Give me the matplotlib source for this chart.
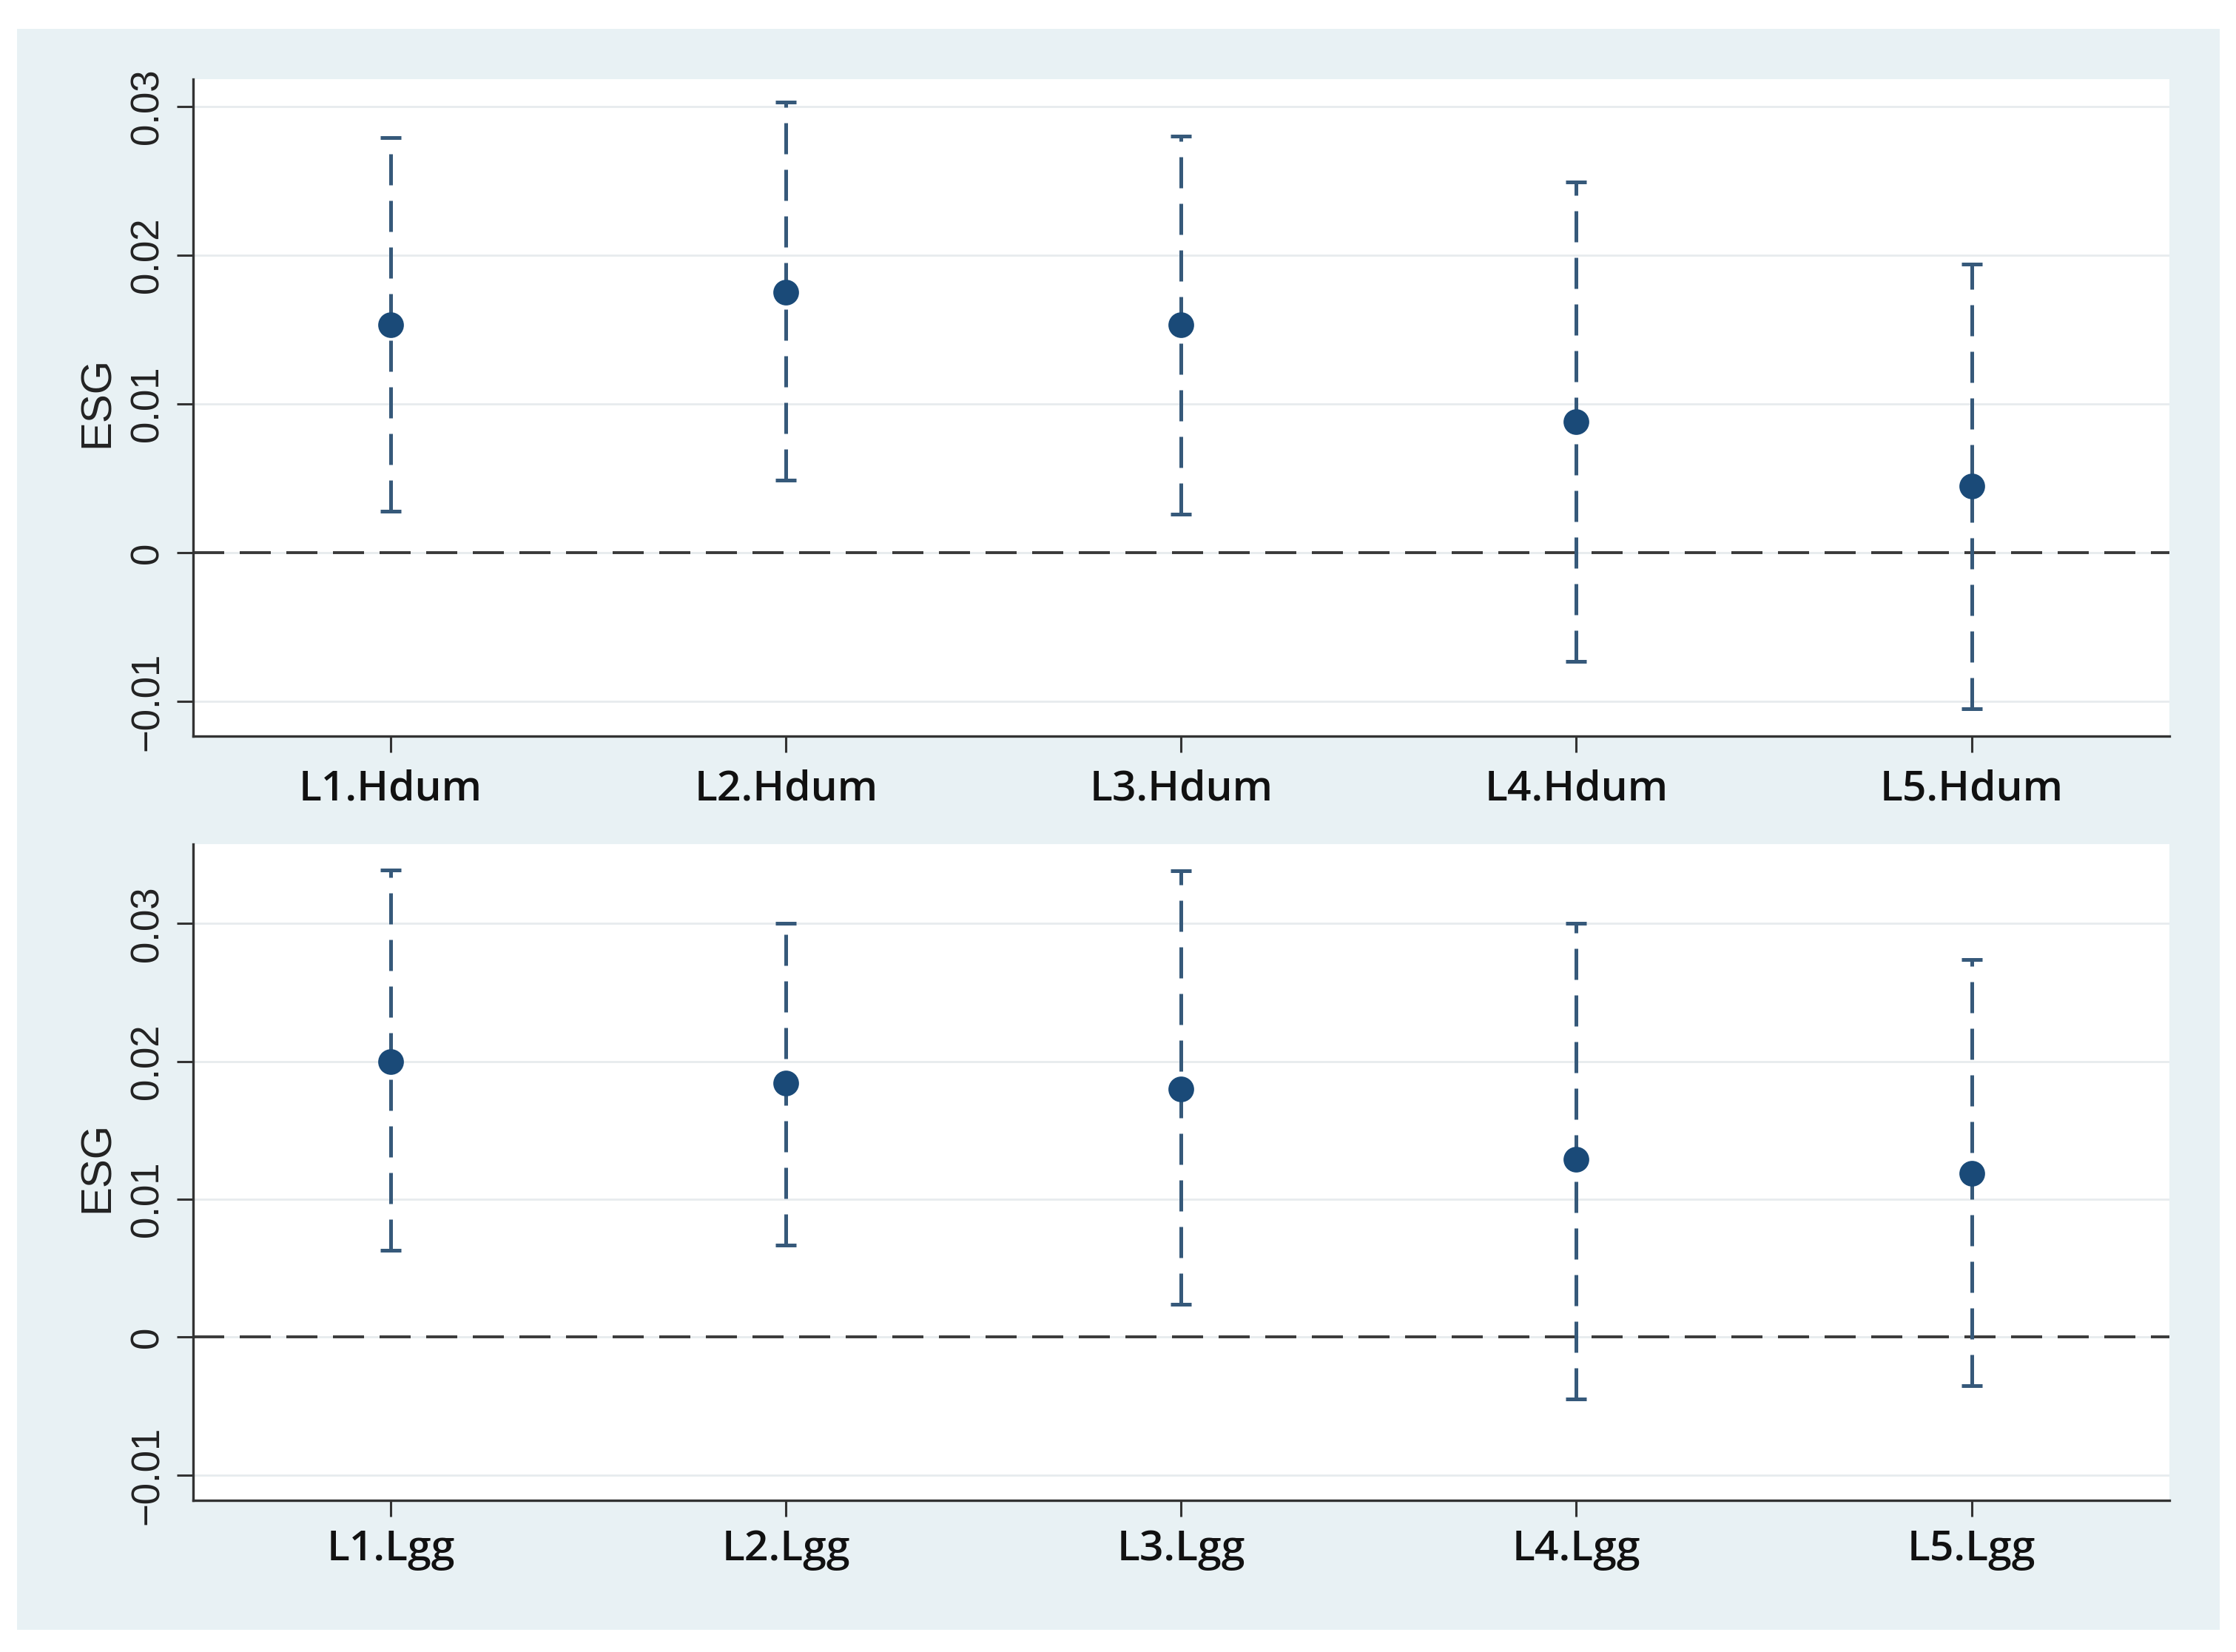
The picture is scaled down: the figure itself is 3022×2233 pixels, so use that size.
import numpy as np
import matplotlib.pyplot as plt
from matplotlib.patches import Rectangle

# Coefficient estimates and confidence intervals
top_labels = ['L1.Hdum', 'L2.Hdum', 'L3.Hdum', 'L4.Hdum', 'L5.Hdum']
top_est = [0.0153, 0.0175, 0.0153, 0.0088, 0.0045]
top_lo = [0.0028, 0.0049, 0.0026, -0.0073, -0.0105]
top_hi = [0.0279, 0.0303, 0.0280, 0.0249, 0.0194]

bot_labels = ['L1.Lgg', 'L2.Lgg', 'L3.Lgg', 'L4.Lgg', 'L5.Lgg']
bot_est = [0.0200, 0.0184, 0.0180, 0.0129, 0.0119]
bot_lo = [0.0063, 0.0067, 0.0024, -0.0045, -0.0035]
bot_hi = [0.0339, 0.0300, 0.0338, 0.0300, 0.0274]

y_ticks = [-0.01, 0, 0.01, 0.02, 0.03]
y_ticklabels = ['\u22120.01', '0', '0.01', '0.02', '0.03']

panel_bg = '#e8f1f4'
point_color = '#1a4a78'
bar_color = '#36597a'

fig = plt.figure(figsize=(15.11, 11.165), dpi=200)
fig.patch.set_facecolor('white')
fig.patches.append(Rectangle((0.0076, 0.0134), 0.9851, 0.9691,
                             transform=fig.transFigure, facecolor=panel_bg,
                             edgecolor='none', zorder=-10))

ax_top = fig.add_axes([0.0864, 0.5544, 0.8837, 0.3977])
ax_bot = fig.add_axes([0.0864, 0.0918, 0.8837, 0.3972])


def draw_panel(ax, labels, est, lo, hi, ylim, xpad):
    x = np.arange(1, len(labels) + 1)
    est = np.array(est)
    err = [est - np.array(lo), np.array(hi) - est]
    ax.set_facecolor('white')
    ax.axhline(0, color='#3a3a3a', lw=1.4, dashes=(10.8, 5.4), zorder=1)
    cont = ax.errorbar(x, est, yerr=err, fmt='o', color=point_color,
                       markersize=11.5, ecolor=bar_color, elinewidth=1.8,
                       capsize=5, capthick=1.8, zorder=3)
    for lc in cont[2]:
        lc.set_linestyle((0, (8.4, 4.2)))
    ax.set_xlim(0.5, 5.5)
    ax.set_ylim(*ylim)
    ax.set_yticks(y_ticks)
    ax.set_yticklabels(y_ticklabels, rotation=90, va='center',
                       family='Liberation Sans', fontsize=19, color='#222222')
    ax.set_xticks(x)
    ax.set_xticklabels(labels, family='Open Sans', fontweight='semibold',
                       fontsize=20.5, color='#111111')
    ax.tick_params(axis='y', length=8, width=1.1, color='#333333', pad=5)
    ax.tick_params(axis='x', length=8, width=1.1, color='#333333', pad=xpad)
    ax.grid(axis='y', color='#e7ebee', lw=1.0, zorder=0)
    ax.set_axisbelow(True)
    for side in ['top', 'right']:
        ax.spines[side].set_visible(False)
    for side in ['left', 'bottom']:
        ax.spines[side].set_color('#333333')
        ax.spines[side].set_linewidth(1.2)
    ax.set_ylabel('ESG', family='Liberation Sans', fontsize=21,
                  color='#222222', va='center')


draw_panel(ax_top, top_labels, top_est, top_lo, top_hi, (-0.01232, 0.03183), 8)
draw_panel(ax_bot, bot_labels, bot_est, bot_lo, bot_hi, (-0.01183, 0.03575), 6)
ax_top.yaxis.set_label_coords(-0.0483, 0.508)
ax_bot.yaxis.set_label_coords(-0.0483, 0.508)

fig.savefig('out.png', dpi=200)
